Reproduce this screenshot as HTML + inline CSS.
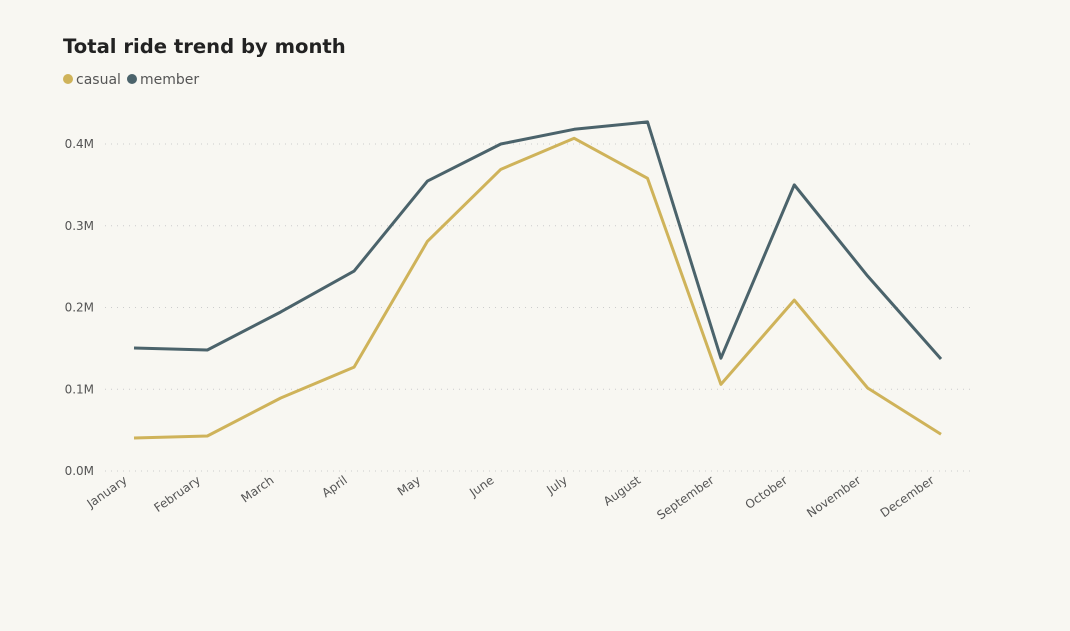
<!DOCTYPE html>
<html><head><meta charset="utf-8"><style>
body{margin:0;background:#f8f7f2;width:1070px;height:627px;overflow:hidden;font-family:"DejaVu Sans","Liberation Sans",sans-serif}
</style></head><body>
<svg id="chart" width="1070" height="627" xmlns="http://www.w3.org/2000/svg">
<text x="63" y="53" font-size="19.6" font-weight="bold" fill="#222" font-family="DejaVu Sans, sans-serif">Total ride trend by month</text>
<g>
<g><circle cx="68" cy="79" r="5" fill="#cfb35a"/><text x="76" y="84" font-size="14" fill="#555">casual</text></g>
<g><circle cx="132" cy="79" r="5" fill="#4b636b"/><text x="140" y="84" font-size="14" fill="#555">member</text></g>
</g>
<g id="grid"></g><g id="xaxis"></g><g id="lines"></g>
</svg>
<script>
const categories=["January","February","March","April","May","June","July","August","September","October","November","December"];
const casual=[0.0404,0.0428,0.0893,0.127,0.281,0.369,0.407,0.358,0.106,0.209,0.1015,0.045];
const member=[0.1505,0.148,0.1945,0.2446,0.3547,0.400,0.418,0.427,0.138,0.350,0.2385,0.137];
const yTicks=[0,0.1,0.2,0.3,0.4];
const yTickLabels=["0.0M","0.1M","0.2M","0.3M","0.4M"];
const NS="http://www.w3.org/2000/svg";
const x=i=>134+i*(941-134)/(categories.length-1);
const y=v=>471-v*817.5;
const grid=document.getElementById('grid'),xa=document.getElementById('xaxis'),lines=document.getElementById('lines');
yTicks.forEach((t,i)=>{
 const l=document.createElementNS(NS,'line');
 
 
 l.setAttribute('x1',105);l.setAttribute('x2',970);l.setAttribute('y1',y(t));l.setAttribute('y2',y(t));
 l.setAttribute('stroke','#ccc');l.setAttribute('stroke-dasharray','1 5');grid.appendChild(l);
 const tx=document.createElementNS(NS,'text');
 
 
 tx.setAttribute('x',94);tx.setAttribute('y',y(t)+4);tx.setAttribute('text-anchor','end');
 tx.setAttribute('font-size','12');tx.setAttribute('fill','#555');tx.textContent=yTickLabels[i];grid.appendChild(tx);
});
categories.forEach((c,i)=>{
 const tx=document.createElementNS(NS,'text');
 
 
 tx.setAttribute('transform',`translate(${x(i)-6},${482}) rotate(-35)`);
 tx.setAttribute('text-anchor','end');tx.setAttribute('font-size','12');tx.setAttribute('fill','#555');
 tx.textContent=c;xa.appendChild(tx);
});
[[casual,'#cfb35a','casual-line'],[member,'#4b636b','member-line']].forEach(([d,col,n])=>{
 const p=document.createElementNS(NS,'polyline');
 
 
 p.setAttribute('points',d.map((v,i)=>x(i)+','+y(v)).join(' '));
 p.setAttribute('fill','none');p.setAttribute('stroke',col);p.setAttribute('stroke-width','3');
 p.setAttribute('stroke-linejoin','round');lines.appendChild(p);
});
</script>
</body></html>
